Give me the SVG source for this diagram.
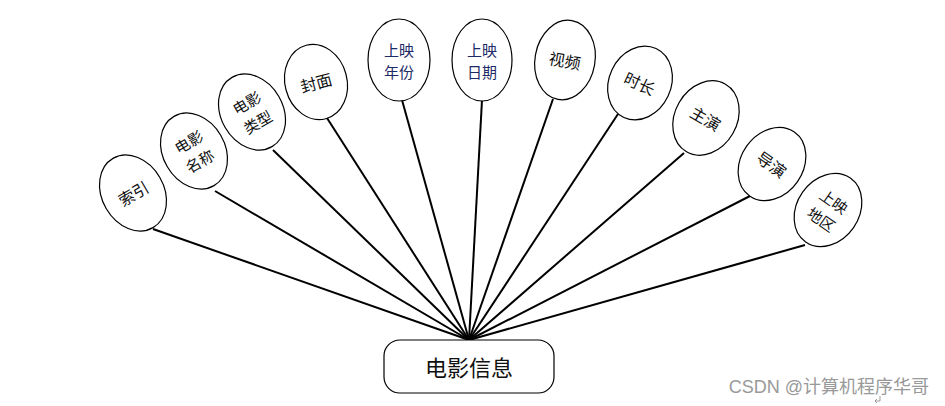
<svg xmlns="http://www.w3.org/2000/svg" width="945" height="406" viewBox="0 0 945 406">
<style>
.e{fill:#fff;stroke:#000;stroke-width:1.2}
.t{font-family:"Noto Sans CJK SC","Noto Sans CJK JP",sans-serif;font-size:15px;fill:#111;text-anchor:middle;dominant-baseline:central}
.b{fill:#1c2a66}
.c line{stroke:#000;stroke-width:2}
</style>
<rect width="945" height="406" fill="#fff"/>
<g id="connectors" class="c">
<line x1="469" y1="340" x2="153" y2="229"/>
<line x1="469" y1="340" x2="215" y2="191"/>
<line x1="469" y1="340" x2="273" y2="150"/>
<line x1="469" y1="340" x2="327" y2="118"/>
<line x1="469" y1="340" x2="402" y2="100"/>
<line x1="469" y1="340" x2="482" y2="100"/>
<line x1="469" y1="340" x2="553" y2="99"/>
<line x1="469" y1="340" x2="618" y2="114"/>
<line x1="469" y1="340" x2="684" y2="153"/>
<line x1="469" y1="340" x2="750" y2="196"/>
<line x1="469" y1="340" x2="805" y2="245"/>
</g>
<g id="n1" transform="translate(133,193) rotate(-30)"><ellipse class="e" rx="31" ry="40"/><text class="t" x="0" y="0" style="font-size:16px">索引</text></g>
<g id="n2" transform="translate(194,151) rotate(-30)"><ellipse class="e" rx="31" ry="40"/><text class="t" x="0" y="-11">电影</text><text class="t" x="0" y="11">名称</text></g>
<g id="n3" transform="translate(252,112) rotate(-30)"><ellipse class="e" rx="31" ry="40"/><text class="t" x="0" y="-11">电影</text><text class="t" x="0" y="11">类型</text></g>
<g id="n4" transform="translate(316,82) rotate(-15)"><ellipse class="e" rx="31" ry="38"/><text class="t" x="0" y="0" style="font-size:16px">封面</text></g>
<g id="n5" transform="translate(399,60)"><ellipse class="e" rx="31" ry="41"/><text class="t b" x="0" y="-11">上映</text><text class="t b" x="0" y="11">年份</text></g>
<g id="n6" transform="translate(482,60)"><ellipse class="e" rx="30" ry="41"/><text class="t b" x="0" y="-11">上映</text><text class="t b" x="0" y="11">日期</text></g>
<g id="n7" transform="translate(565,60) rotate(10)"><ellipse class="e" rx="30" ry="40"/><text class="t" x="0" y="0" style="font-size:16px">视频</text></g>
<g id="n8" transform="translate(640,83) rotate(25)"><ellipse class="e" rx="31" ry="38"/><text class="t" x="0" y="0" style="font-size:16px">时长</text></g>
<g id="n9" transform="translate(706,118) rotate(30)"><ellipse class="e" rx="31" ry="39"/><text class="t" x="0" y="0" style="font-size:16px">主演</text></g>
<g id="n10" transform="translate(772,164) rotate(35)"><ellipse class="e" rx="31" ry="39"/><text class="t" x="0" y="0" style="font-size:16px">导演</text></g>
<g id="n11" transform="translate(828,210) rotate(35)"><ellipse class="e" rx="31" ry="39"/><text class="t" x="0" y="-11">上映</text><text class="t" x="0" y="11">地区</text></g>
<g id="root"><rect x="384" y="340" width="170" height="53" rx="16" fill="#fff" stroke="#000" stroke-width="1.2"/><text class="t" x="469" y="366" style="font-size:22px">电影信息</text></g>
<text x="929" y="393" style="font-family:'Liberation Sans','Noto Sans CJK SC',sans-serif;font-size:18px;fill:#999;text-anchor:end">CSDN @计算机程序华哥</text>
<path d="M880 396 v5 h-5 M875 401 l2 -2 M875 401 l2 2" fill="none" stroke="#888" stroke-width="0.8"/>
</svg>
